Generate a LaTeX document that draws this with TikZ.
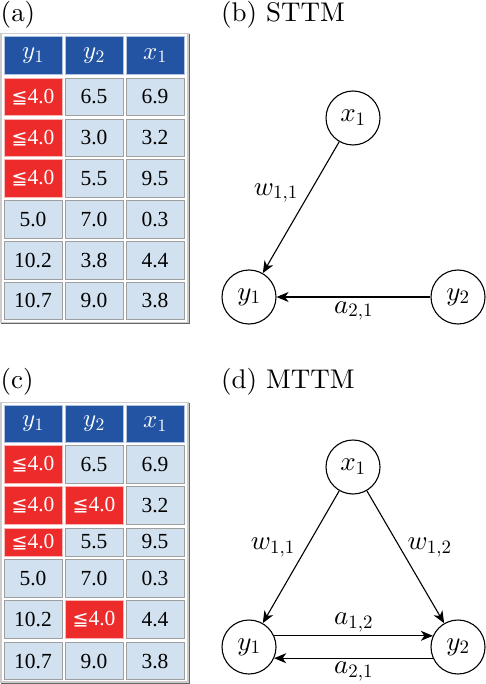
\documentclass[tikz,border=0pt]{standalone}
\usepackage[no-math]{fontspec}
\DeclareFontShape{OML}{cmm}{m}{it}{<->cmmi10}{}
\DeclareFontShape{OT1}{cmr}{m}{n}{<->cmr10}{}
\newfontfamily\tnr{Liberation Serif}
\newfontfamily\dvs{DejaVu Sans}
\newcommand{\cmrm}{\fontencoding{OT1}\fontfamily{cmr}\fontseries{m}\fontshape{n}\selectfont}
\usetikzlibrary{arrows.meta}
\definecolor{hblue}{HTML}{2353A3}
\definecolor{cred}{HTML}{EE2B2B}
\definecolor{clight}{HTML}{D2E1EF}
\newcommand{\cenleq}{{\dvs\fontsize{19}{21}\selectfont ≦}4.0}
\begin{document}
\begin{tikzpicture}[x=1pt,y=-1pt,
  cell/.style={minimum width=58pt, minimum height=37.5pt, inner sep=0pt, outer sep=0pt, line width=0.8pt, font=\tnr\fontsize{21.5}{23}\selectfont},
  lc/.style={cell, fill=clight, draw=gray!75},
  hc/.style={cell, fill=hblue, draw=hblue!35, text=white, font=\fontsize{25}{27}\selectfont},
  rc/.style={cell, fill=cred, draw=cred!35, text=white},
  tframe/.style={draw=gray!40, line width=1.5pt},
  shadowline/.style={draw=gray!80!black, line width=1pt},
  captxt/.style={anchor=west, inner sep=0pt, font=\cmrm\fontsize{27}{30}\selectfont},
  var/.style={circle, draw, line width=1.1pt, minimum size=54pt, inner sep=0pt, font=\fontsize{27}{29}\selectfont},
  arr/.style={line width=1.1pt, -{Stealth[length=12pt,width=10pt,inset=3.5pt]}},
  lab/.style={font=\fontsize{27}{29}\selectfont, inner sep=2pt}
]
\useasboundingbox (0,0) rectangle (486,684);

% ---------- (a) ----------
\node[captxt] (capa) at (0.5,15) {(a)};
\draw[tframe] (0.75,33.5) rectangle (188,322.5);
\draw[shadowline] (189,34) -- (189,323.5) -- (1,323.5);
\node[hc] (ah1) at (33,55.5) {$y_1$};
\node[hc] (ah2) at (94,55.5) {$y_2$};
\node[hc] (ah3) at (155,55.5) {$x_1$};
\node[rc] (a11) at (33,97) {\cenleq};
\node[lc] (a12) at (94,97) {6.5};
\node[lc] (a13) at (155,97) {6.9};
\node[rc] (a21) at (33,137.8) {\cenleq};
\node[lc] (a22) at (94,137.8) {3.0};
\node[lc] (a23) at (155,137.8) {3.2};
\node[rc] (a31) at (33,178.6) {\cenleq};
\node[lc] (a32) at (94,178.6) {5.5};
\node[lc] (a33) at (155,178.6) {9.5};
\node[lc] (a41) at (33,219.4) {5.0};
\node[lc] (a42) at (94,219.4) {7.0};
\node[lc] (a43) at (155,219.4) {0.3};
\node[lc] (a51) at (33,260.2) {10.2};
\node[lc] (a52) at (94,260.2) {3.8};
\node[lc] (a53) at (155,260.2) {4.4};
\node[lc] (a61) at (33,301) {10.7};
\node[lc] (a62) at (94,301) {9.0};
\node[lc] (a63) at (155,301) {3.8};

% ---------- (c) ----------
\node[captxt] (capc) at (0.5,382) {(c)};
\draw[tframe] (0.75,402.5) rectangle (188,682);
\draw[shadowline] (189,403) -- (189,683) -- (1,683);
\node[hc] (ch1) at (33,424) {$y_1$};
\node[hc] (ch2) at (94,424) {$y_2$};
\node[hc] (ch3) at (155,424) {$x_1$};
\node[rc] (c11) at (33,464.5) {\cenleq};
\node[lc] (c12) at (94,464.5) {6.5};
\node[lc] (c13) at (155,464.5) {6.9};
\node[rc] (c21) at (33,505.5) {\cenleq};
\node[rc] (c22) at (94,505.5) {\cenleq};
\node[lc] (c23) at (155,505.5) {3.2};
\node[rc, minimum height=28pt] (c31) at (33,542) {\cenleq};
\node[lc, minimum height=28pt] (c32) at (94,542) {5.5};
\node[lc, minimum height=28pt] (c33) at (155,542) {9.5};
\node[lc] (c41) at (33,578.5) {5.0};
\node[lc] (c42) at (94,578.5) {7.0};
\node[lc] (c43) at (155,578.5) {0.3};
\node[lc] (c51) at (33,619.5) {10.2};
\node[rc] (c52) at (94,619.5) {\cenleq};
\node[lc] (c53) at (155,619.5) {4.4};
\node[lc] (c61) at (33,661) {10.7};
\node[lc] (c62) at (94,661) {9.0};
\node[lc] (c63) at (155,661) {3.8};

% ---------- (b) STTM ----------
\node[captxt] (capb) at (221,15) {(b) STTM};
\node[var] (bx) at (353,118) {$x_1$};
\node[var] (by1) at (249,297) {$y_1$};
\node[var] (by2) at (458,297) {$y_2$};
\draw[arr] (bx) -- node[lab, pos=0.39, left=9pt] {$w_{1,1}$} (by1);
\draw[arr] (by2) -- node[lab, below=2pt] {$a_{2,1}$} (by1);

% ---------- (d) MTTM ----------
\node[captxt] (capd) at (221,382) {(d) MTTM};
\node[var] (dx) at (353,467) {$x_1$};
\node[var] (dy1) at (249,647) {$y_1$};
\node[var] (dy2) at (458,647) {$y_2$};
\draw[arr] (dx) -- node[lab, pos=0.43, left=9pt] {$w_{1,1}$} (dy1);
\draw[arr] (dx) -- node[lab, pos=0.43, right=5pt] {$w_{1,2}$} (dy2);
\draw[arr] (dy1.24) -- node[lab, above=1pt] {$a_{1,2}$} (dy2.156);
\draw[arr] (dy2.-156) -- node[lab, below=1pt] {$a_{2,1}$} (dy1.-24);
\end{tikzpicture}
\end{document}
